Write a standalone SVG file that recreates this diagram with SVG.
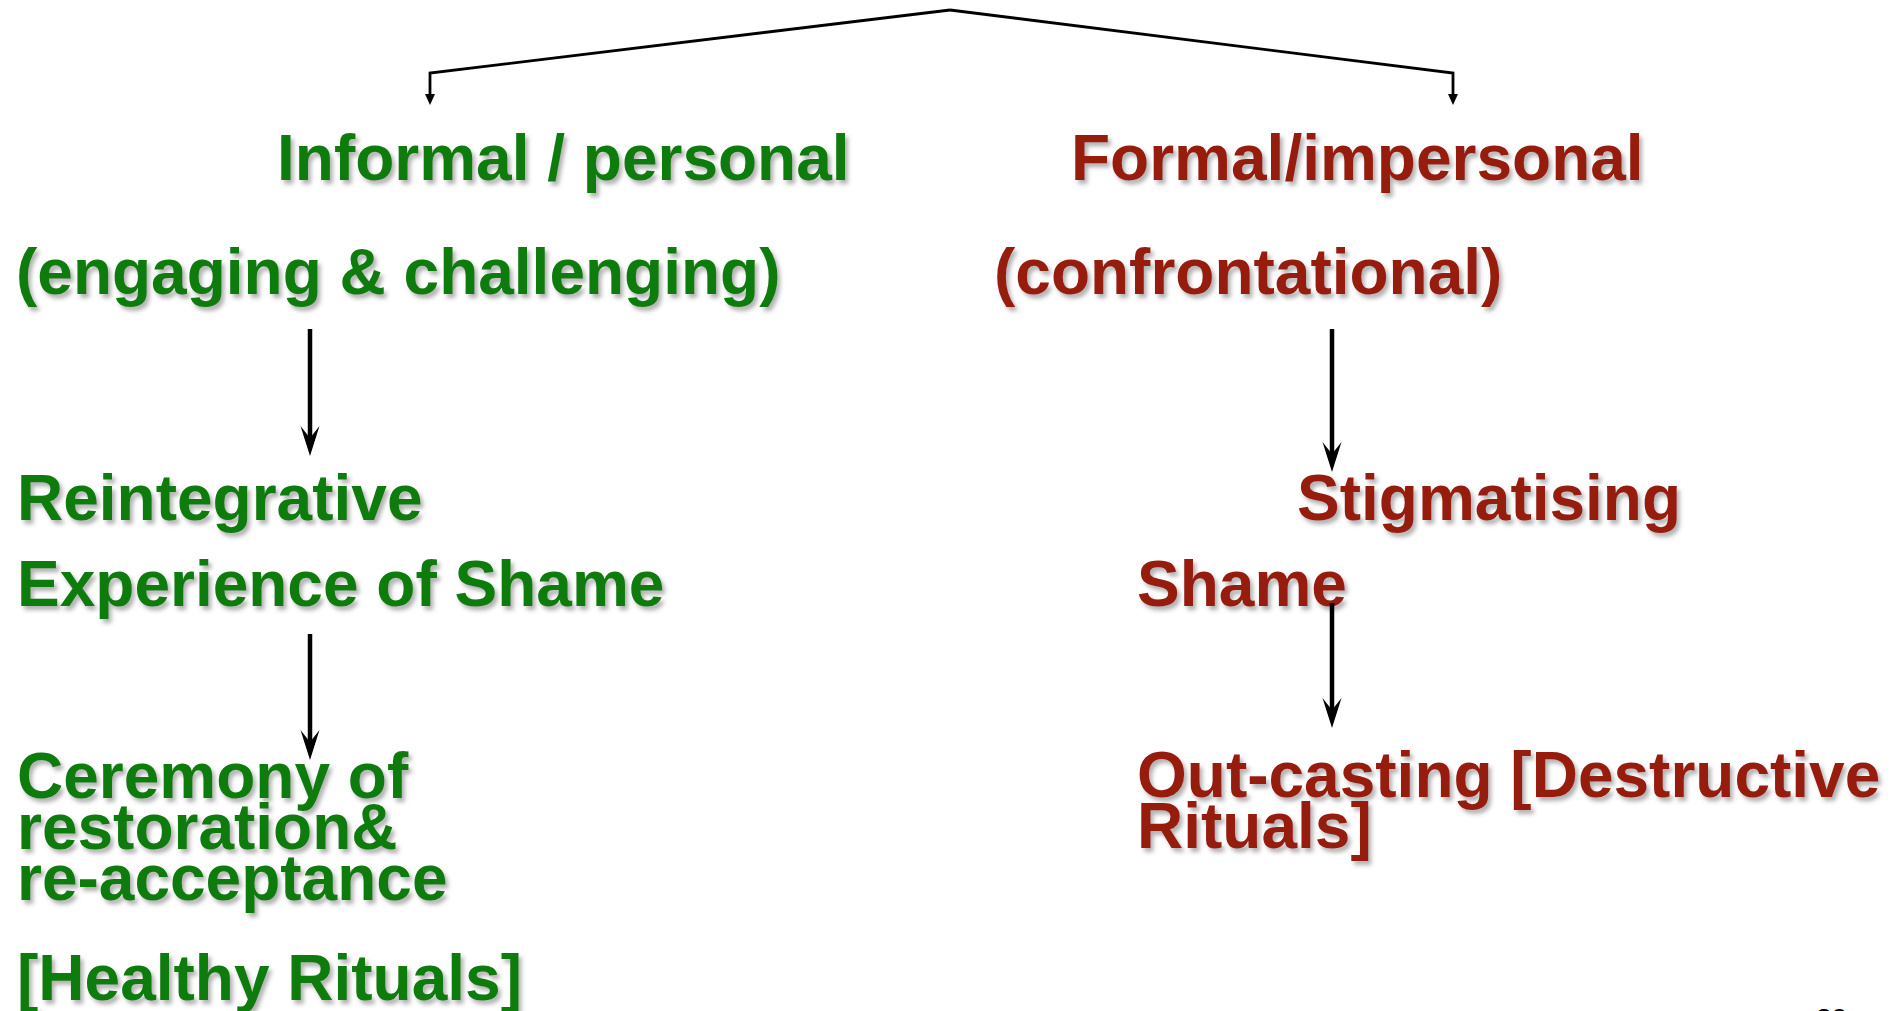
<svg xmlns="http://www.w3.org/2000/svg" width="1897" height="1011" viewBox="0 0 1897 1011">
  <style>
    .t { font-family: "Liberation Sans", Arial, sans-serif; font-weight: bold; font-size: 64px; filter: url(#shadow); }
    .g { fill: #0c7c0c; }
    .r { fill: #961a0a; }
    .conn { fill: none; stroke: #000; }
    .thin { stroke-width: 2.8; }
    .thick { stroke-width: 4.5; }
    .pg { font-family: "Liberation Sans", Arial, sans-serif; font-size: 28px; fill: #000; }
  </style>
  <defs>
    <filter id="shadow" x="-5%" y="-20%" width="115%" height="150%">
      <feDropShadow dx="3" dy="4" stdDeviation="2.2" flood-color="#555" flood-opacity="0.45"/>
    </filter>
    <marker id="small" markerUnits="userSpaceOnUse" viewBox="-4 -6 13 12" refX="0" refY="0" markerWidth="13" markerHeight="12" orient="auto">
      <path d="M8,0 L-3,-5 L-3,5 Z" fill="#000"/>
    </marker>
    <marker id="stealth" markerUnits="userSpaceOnUse" viewBox="-18 -11 34 22" refX="0" refY="0" markerWidth="34" markerHeight="22" orient="auto">
      <path d="M14,0 L-16,-9.5 L-4,0 L-16,9.5 Z" fill="#000"/>
    </marker>
  </defs>
  <rect width="1897" height="1011" fill="#fff"/>

  <g id="informal"><text class="t g" x="277" y="180">Informal / personal</text></g>
  <g id="formal"><text class="t r" x="1071" y="180">Formal/impersonal</text></g>
  <g id="engaging"><text class="t g" x="16" y="294">(engaging &amp; challenging)</text></g>
  <g id="confrontational"><text class="t r" x="994" y="294">(confrontational)</text></g>
  <g id="reintegrative">
    <text class="t g" x="17" y="520">Reintegrative</text>
    <text class="t g" x="17" y="606">Experience of Shame</text>
  </g>
  <g id="stigmatising">
    <text class="t r" x="1297" y="520">Stigmatising</text>
    <text class="t r" x="1137" y="606">Shame</text>
  </g>
  <g id="ceremony">
    <text class="t g" x="17" y="798">Ceremony of</text>
    <text class="t g" x="17" y="849">restoration&amp;</text>
    <text class="t g" x="17" y="900">re-acceptance</text>
    <text class="t g" x="17" y="1000">[Healthy Rituals]</text>
  </g>
  <g id="outcasting">
    <text class="t r" x="1137" y="797">Out-casting [Destructive</text>
    <text class="t r" x="1137" y="848">Rituals]</text>
  </g>
  <g id="page"><text class="pg" x="1816" y="1028">20</text></g>

  <g id="connectors">
    <path class="conn thin" d="M950,10 L430,73 L430,97" marker-end="url(#small)"/>
    <path class="conn thin" d="M950,10 L1453,73 L1453,97" marker-end="url(#small)"/>
    <path class="conn thick" d="M310,329 L310,442" marker-end="url(#stealth)"/>
    <path class="conn thick" d="M1332,329 L1332,458" marker-end="url(#stealth)"/>
    <path class="conn thick" d="M310,634 L310,746" marker-end="url(#stealth)"/>
    <path class="conn thick" d="M1332,603 L1332,714" marker-end="url(#stealth)"/>
  </g>
</svg>
